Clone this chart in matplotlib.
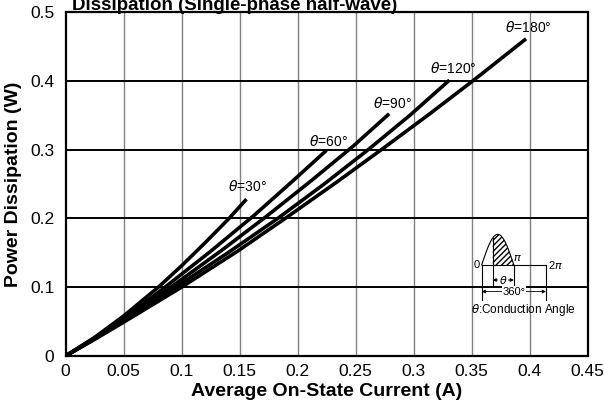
import matplotlib
matplotlib.use("Agg")
import matplotlib.pyplot as plt
import numpy as np

plt.rcParams['font.family'] = ['Liberation Sans', 'DejaVu Sans']

# curves: average current (A) vs power dissipation (W)
angles = [30, 60, 90, 120, 180]
x30 = [0, 0.025, 0.05, 0.08, 0.1, 0.12, 0.141, 0.156]
y30 = [0, 0.027, 0.058, 0.1, 0.131, 0.164, 0.2, 0.228]
x60 = [0, 0.025, 0.05, 0.085, 0.125, 0.163, 0.195, 0.225]
y60 = [0, 0.026, 0.054, 0.099, 0.152, 0.205, 0.253, 0.299]
x90 = [0, 0.025, 0.05, 0.09, 0.135, 0.174, 0.212, 0.248, 0.279]
y90 = [0, 0.025, 0.052, 0.099, 0.154, 0.204, 0.255, 0.305, 0.352]
x120 = [0, 0.025, 0.05, 0.095, 0.14, 0.183, 0.223, 0.261, 0.297, 0.331]
y120 = [0, 0.025, 0.051, 0.1, 0.15, 0.2, 0.25, 0.3, 0.35, 0.401]
x180 = [0, 0.025, 0.05, 0.1, 0.148, 0.192, 0.234, 0.274, 0.314, 0.352, 0.397]
y180 = [0, 0.024, 0.049, 0.1, 0.152, 0.203, 0.253, 0.302, 0.352, 0.401, 0.461]
curves_x = [x30, x60, x90, x120, x180]
curves_y = [y30, y60, y90, y120, y180]
# label anchor (centre of text) for each curve
label_x = [0.157, 0.2265, 0.282, 0.334, 0.3985]
label_y = [0.246, 0.312, 0.367, 0.418, 0.478]

xticks = [0, 0.05, 0.1, 0.15, 0.2, 0.25, 0.3, 0.35, 0.4, 0.45]
xtick_labels = ['0', '0.05', '0.1', '0.15', '0.2', '0.25', '0.3', '0.35', '0.4', '0.45']
yticks = [0, 0.1, 0.2, 0.3, 0.4, 0.5]
ytick_labels = ['0', '0.1', '0.2', '0.3', '0.4', '0.5']

fig = plt.figure(figsize=(6.04, 4.09), dpi=100)
ax = fig.add_axes([65.5/604, 1-356/409, 522/604, 344/409])

for xv in xticks[1:-1]:
    ax.axvline(xv, color='#808080', lw=1.0, zorder=1)
for yv in yticks[1:-1]:
    ax.axhline(yv, color='black', lw=1.4, zorder=1)

for xs, ys in zip(curves_x, curves_y):
    ax.plot(xs, ys, color='black', lw=2.6, solid_capstyle='butt',
            solid_joinstyle='round', zorder=3)

for a, lx, ly in zip(angles, label_x, label_y):
    ax.text(lx, ly, r'$\theta$=%d°' % a, fontsize=10, ha='center', va='center')

ax.set_xlim(0, 0.45)
ax.set_ylim(0, 0.5)
ax.set_xticks(xticks)
ax.set_xticklabels(xtick_labels)
ax.set_yticks(yticks)
ax.set_yticklabels(ytick_labels)
ax.tick_params(axis='both', length=0, labelsize=12.5)
ax.tick_params(axis='x', pad=6)
ax.tick_params(axis='y', pad=8)
for sp in ax.spines.values():
    sp.set_linewidth(1.6)

ax.set_xlabel('Average On-State Current (A)', fontsize=14, fontweight='bold', labelpad=3)
ax.set_ylabel('Power Dissipation (W)', fontsize=14, fontweight='bold', labelpad=6)

fig.text(72/604, 1-10/409, 'Dissipation (Single-phase half-wave)', fontsize=13.5,
         fontweight='bold', va='baseline', ha='left')

# inset sketch of the conduction angle
ins = fig.add_axes([465/604, 1-320/409, 120/604, 95/409])
ins.set_xlim(-1.63, 10.1)
ins.set_ylim(-5.38, 3.91)
ins.axis('off')
ins.patch.set_alpha(0)
t0 = 1.07
u = np.linspace(0, np.pi, 100)
ins.plot(u, 3.0*np.sin(u), color='black', lw=0.8)
uc = u[u >= t0]
ins.fill_between(uc, 0, 3.0*np.sin(uc), facecolor='none', edgecolor='black',
                 hatch='//////', lw=0)
ins.plot([t0, t0], [3.0*np.sin(t0), -1.96], color='black', lw=0.8)
ins.plot([np.pi, np.pi], [0, -1.96], color='black', lw=0.8)
ins.plot([0, 2*np.pi], [0, 0], color='black', lw=0.8)
ins.plot([0, 0], [0, -3.4], color='black', lw=0.8)
ins.plot([2*np.pi, 2*np.pi], [0, -3.4], color='black', lw=0.8)
ins.annotate('', xy=(t0, -1.47), xytext=(np.pi, -1.47),
             arrowprops=dict(arrowstyle='<|-|>', lw=0.6, color='black',
                             mutation_scale=5, shrinkA=0, shrinkB=0))
ins.text((t0+np.pi)/2, -1.47, r'$\theta$', fontsize=8, ha='center', va='center',
         bbox=dict(facecolor='white', edgecolor='none', pad=0.3))
ins.annotate('', xy=(0, -2.6), xytext=(2*np.pi, -2.6),
             arrowprops=dict(arrowstyle='<|-|>', lw=0.6, color='black',
                             mutation_scale=5, shrinkA=0, shrinkB=0))
ins.text(np.pi, -2.6, '360°', fontsize=8, ha='center', va='center',
         bbox=dict(facecolor='white', edgecolor='none', pad=0.3))
ins.text(-0.2, 0, '0', fontsize=8, ha='right', va='center')
ins.text(3.45, 0.7, r'$\pi$', fontsize=8, ha='center', va='center')
ins.text(6.5, 0, r'2$\pi$', fontsize=8, ha='left', va='center')
ins.text(4.1, -4.4, r'$\theta$:Conduction Angle', fontsize=8.5, ha='center', va='center')

fig.savefig('out.png', dpi=100)
